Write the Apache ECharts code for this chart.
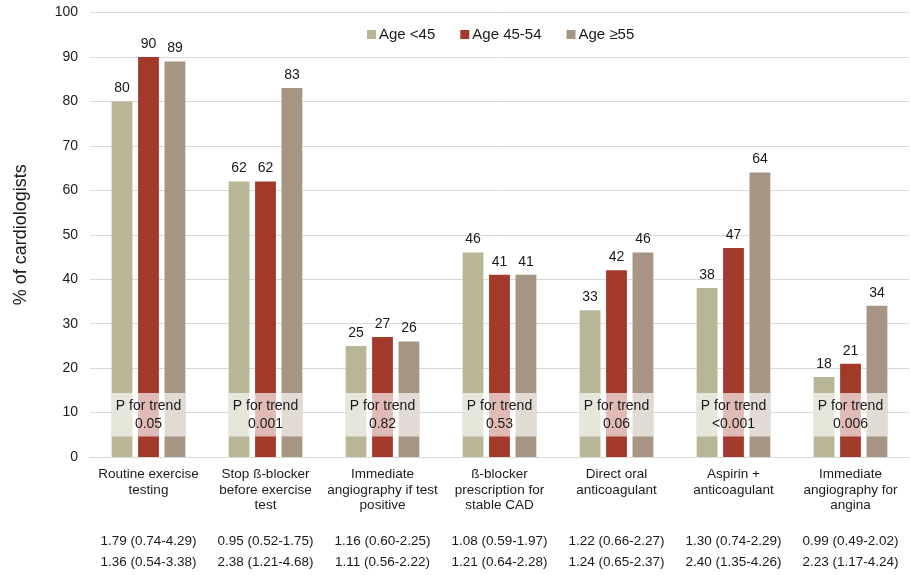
<!DOCTYPE html>
<html>
<head>
<meta charset="utf-8">
<script src="https://cdn.jsdelivr.net/npm/echarts@6/dist/echarts.min.js"></script>
<style>
  html, body { margin: 0; padding: 0; background: #fff; }
  #chart { width: 910px; height: 575px; }
</style>
</head>
<body>
<div id="chart"></div>
<script>
// Practice categories (x axis)
const categories = [
  'Routine exercise\ntesting',
  'Stop ß-blocker\nbefore exercise\ntest',
  'Immediate\nangiography if test\npositive',
  'ß-blocker\nprescription for\nstable CAD',
  'Direct oral\nanticoagulant',
  'Aspirin +\nanticoagulant',
  'Immediate\nangiography for\nangina'
];

// % of cardiologists by age group
const ageUnder45 = [80, 62, 25, 46, 33, 38, 18];
const age45to54  = [90, 62, 27, 41, 42, 47, 21];
const age55plus  = [89, 83, 26, 41, 46, 64, 34];

// P for trend per category
const pTrend = ['0.05', '0.001', '0.82', '0.53', '0.06', '<0.001', '0.006'];

// Odds ratios (95% CI), two rows under the axis
const orRow1 = ['1.79 (0.74-4.29)', '0.95 (0.52-1.75)', '1.16 (0.60-2.25)', '1.08 (0.59-1.97)',
                '1.22 (0.66-2.27)', '1.30 (0.74-2.29)', '0.99 (0.49-2.02)'];
const orRow2 = ['1.36 (0.54-3.38)', '2.38 (1.21-4.68)', '1.11 (0.56-2.22)', '1.21 (0.64-2.28)',
                '1.24 (0.65-2.37)', '2.40 (1.35-4.26)', '2.23 (1.17-4.24)'];

// Y ticks
const yMin = 0, yMax = 100, yStep = 10;

// Vertical band behind the P-for-trend text
const trendBandLow = 4.6, trendBandHigh = 14.4;

const FONT = 'Liberation Sans, Arial, sans-serif';
const CAT_GAP = 0.37;

const chart = echarts.init(document.getElementById('chart'), null, { renderer: 'canvas' });

const barLabel = {
  show: true, position: 'top', distance: 6,
  color: '#1a1a1a', fontSize: 14, fontFamily: FONT
};

function barSeries(name, data, color) {
  return {
    name: name, type: 'bar', data: data,
    barCategoryGap: (CAT_GAP * 100) + '%', barGap: '27%',
    itemStyle: { color: color },
    label: barLabel,
    z: 2
  };
}

const trendData = pTrend.map((p, i) => [i, trendBandLow, trendBandHigh, p]);

chart.setOption({
  animation: false,
  backgroundColor: '#ffffff',
  textStyle: { fontFamily: FONT },
  grid: { left: 90, right: 1, top: 12.5, bottom: 118, containLabel: false },
  legend: {
    data: ['Age <45', 'Age 45-54', 'Age ≥55'],
    top: 22, left: 362,
    itemWidth: 9, itemHeight: 9, itemGap: 25,
    icon: 'rect',
    textStyle: { fontSize: 15, color: '#1a1a1a', fontFamily: FONT, padding: [0, 0, 0, -2] }
  },
  xAxis: [
    {
      type: 'category', data: categories,
      axisLine: { show: true, lineStyle: { color: '#d9d9d9', width: 1 } },
      axisTick: { show: false },
      axisLabel: {
        interval: 0, margin: 10, color: '#1a1a1a', fontSize: 13.5,
        lineHeight: 15.5, fontFamily: FONT, verticalAlign: 'top'
      }
    },
    {
      type: 'category', data: categories, position: 'bottom', offset: 66,
      axisLine: { show: false }, axisTick: { show: false },
      axisLabel: {
        interval: 0, margin: 8, color: '#1a1a1a', fontSize: 13.5,
        lineHeight: 21, fontFamily: FONT, verticalAlign: 'top',
        formatter: (v, i) => orRow1[i] + '\n' + orRow2[i]
      }
    }
  ],
  yAxis: {
    type: 'value', min: yMin, max: yMax, interval: yStep,
    name: '% of cardiologists', nameLocation: 'middle', nameGap: 60, nameRotate: 90,
    nameTextStyle: { fontSize: 18, color: '#1a1a1a', fontFamily: FONT },
    axisLine: { show: false }, axisTick: { show: false },
    axisLabel: { margin: 12, color: '#1a1a1a', fontSize: 14, fontFamily: FONT },
    splitLine: { lineStyle: { color: '#d9d9d9', width: 1 } }
  },
  series: [
    barSeries('Age <45', ageUnder45, '#b8b696'),
    barSeries('Age 45-54', age45to54, '#a3392a'),
    barSeries('Age ≥55', age55plus, '#a69582'),
    {
      name: 'P for trend', type: 'custom', z: 5,
      data: trendData,
      renderItem: function (params, api) {
        const c = api.value(0);
        const top = api.coord([c, api.value(2)]);
        const bot = api.coord([c, api.value(1)]);
        const band = api.size([1, 0])[0];
        const w = band * (1 - CAT_GAP);
        const x = top[0] - w / 2;
        return {
          type: 'group',
          children: [
            {
              type: 'rect',
              shape: { x: x, y: top[1], width: w, height: bot[1] - top[1] },
              style: { fill: 'rgba(255,255,255,0.66)' }
            },
            {
              type: 'text',
              style: {
                x: top[0], y: (top[1] + bot[1]) / 2,
                text: 'P for trend\n' + trendData[params.dataIndex][3],
                align: 'center', verticalAlign: 'middle',
                fontSize: 14, lineHeight: 18, fontFamily: FONT, fill: '#1a1a1a'
              }
            }
          ]
        };
      }
    }
  ]
});
</script>
</body>
</html>
